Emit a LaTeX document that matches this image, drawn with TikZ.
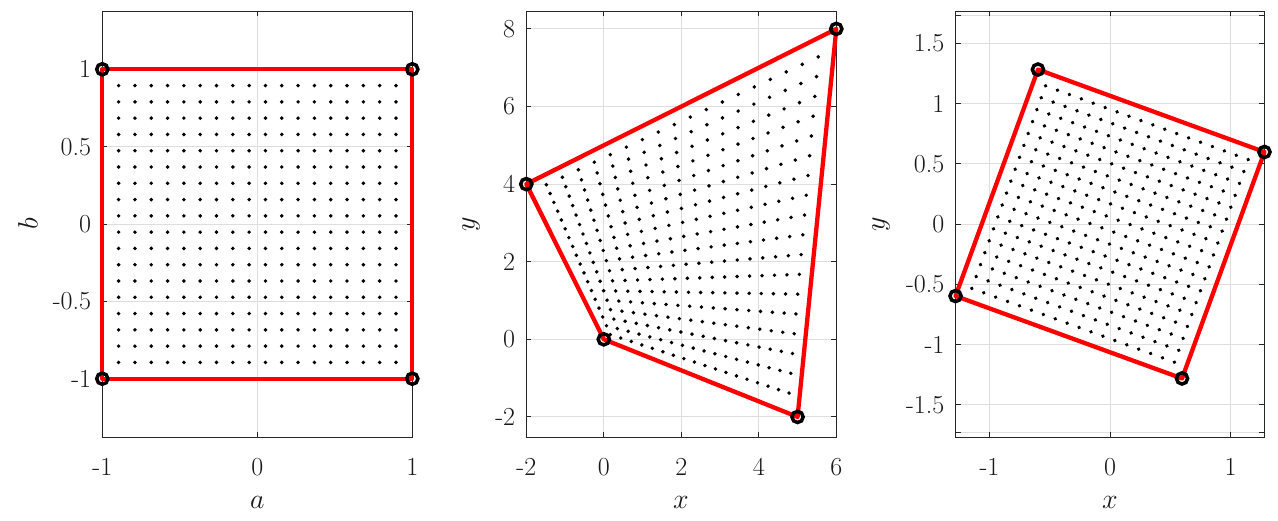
\RequirePackage{fix-cm}
\documentclass[tikz,border=0pt]{standalone}
\definecolor{axc}{RGB}{38,38,38}
\definecolor{labc}{RGB}{25,25,25}
\definecolor{gridc}{RGB}{222,222,222}
\tikzset{
  axbox/.style={draw=axc, line width=0.9pt},
  gridline/.style={draw=gridc, line width=0.9pt},
  tickmark/.style={draw=axc, line width=0.9pt},
  ticklab/.style={font=\fontsize{26}{26}\selectfont, text=labc, inner sep=0pt},
  axlab/.style={font=\fontsize{28}{28}\selectfont, text=labc, inner sep=0pt},
  edge/.style={draw=red, line width=4.3pt, line join=round},
  vtx/.style={circle, draw=black, line width=3.5pt, minimum size=11.2pt, inner sep=0pt},
  dotmark/.style={fill=black}
}
\begin{document}
\begin{tikzpicture}[x=1pt, y=-1pt]
\useasboundingbox[fill=white] (0,0) rectangle (1278,520);

% ---------------- Panel 1 ----------------
\begin{scope}[shift={(257.3pt,-224pt)}, x=155pt, y=154.7pt]
  \foreach \v in {-1,-0.5,0,0.5,1} \draw[gridline] (-1,\v) -- (1,\v);
  \foreach \u in {-1,0,1} \draw[gridline] (\u,-1.377) -- (\u,1.377);
  \draw[axbox] (-1,-1.377) rectangle (1,1.377);
  \foreach \u/\l [count=\k] in {-1/-1,0/0,1/1} {
    \draw[tickmark] (\u,-1.377) -- ++(0,5pt);
    \draw[tickmark] (\u,1.377) -- ++(0,-5pt);
    \node[ticklab, anchor=base] (pax\k) at ([yshift=-38pt]\u,-1.377) {\l};
  }
  \foreach \v/\l [count=\k] in {-1/-1,-0.5/-0.5,0/0,0.5/0.5,1/1} {
    \draw[tickmark] (-1,\v) -- ++(5pt,0);
    \draw[tickmark] (1,\v) -- ++(-5pt,0);
    \node[ticklab, anchor=east] (pay\k) at ([xshift=-11pt]-1,\v) {\l};
  }
  \foreach \i in {1,...,18} \foreach \j in {1,...,18}
    \fill[dotmark] (2*\i/19-1, 2*\j/19-1) circle (1.95pt);
  \coordinate (A1) at (-1,-1);
  \coordinate (A2) at (1,-1);
  \coordinate (A3) at (1,1);
  \coordinate (A4) at (-1,1);
  \draw[edge] (A1) -- (A2) -- (A3) -- (A4) -- cycle;
  \foreach \c in {A1,A2,A3,A4} \node[vtx] (v\c) at (\c) {};
\end{scope}

% ---------------- Panel 2 ----------------
\begin{scope}[shift={(603.8pt,-339.3pt)}, x=38.75pt, y=38.8pt]
  \foreach \v in {-2,0,2,4,6,8} \draw[gridline] (-2,\v) -- (6,\v);
  \foreach \u in {-2,0,2,4,6} \draw[gridline] (\u,-2.53) -- (\u,8.46);
  \draw[axbox] (-2,-2.53) rectangle (6,8.46);
  \foreach \u [count=\k] in {-2,0,2,4,6} {
    \draw[tickmark] (\u,-2.53) -- ++(0,5pt);
    \draw[tickmark] (\u,8.46) -- ++(0,-5pt);
    \node[ticklab, anchor=base] (pbx\k) at ([yshift=-38pt]\u,-2.53) {\u};
  }
  \foreach \v [count=\k] in {-2,0,2,4,6,8} {
    \draw[tickmark] (-2,\v) -- ++(5pt,0);
    \draw[tickmark] (6,\v) -- ++(-5pt,0);
    \node[ticklab, anchor=east] (pby\k) at ([xshift=-11pt]-2,\v) {\v};
  }
  \foreach \i in {1,...,18} \foreach \j in {1,...,18} {
    \pgfmathsetmacro\uu{\i/19}
    \pgfmathsetmacro\vv{\j/19}
    \pgfmathsetmacro\px{5*\uu*(1-\vv)+6*\uu*\vv-2*(1-\uu)*\vv}
    \pgfmathsetmacro\py{-2*\uu*(1-\vv)+8*\uu*\vv+4*(1-\uu)*\vv}
    \fill[dotmark] (\px,\py) circle (1.95pt);
  }
  \coordinate (B1) at (0,0);
  \coordinate (B2) at (5,-2);
  \coordinate (B3) at (6,8);
  \coordinate (B4) at (-2,4);
  \draw[edge] (B1) -- (B2) -- (B3) -- (B4) -- cycle;
  \foreach \c in {B1,B2,B3,B4} \node[vtx] (v\c) at (\c) {};
\end{scope}

% ---------------- Panel 3 ----------------
\begin{scope}[shift={(1110pt,-224pt)}, x=120.5pt, y=120.5pt]
  \foreach \v in {-1.728,-1.5,-1,-0.5,0,0.5,1,1.5,1.728} \draw[gridline] (-1.2817,\v) -- (1.2817,\v);
  \foreach \u in {-1,0,1} \draw[gridline] (\u,-1.768) -- (\u,1.768);
  \draw[axbox] (-1.2817,-1.768) rectangle (1.2817,1.768);
  \foreach \u/\l [count=\k] in {-1/-1,0/0,1/1} {
    \draw[tickmark] (\u,-1.768) -- ++(0,5pt);
    \draw[tickmark] (\u,1.768) -- ++(0,-5pt);
    \node[ticklab, anchor=base] (pcx\k) at ([yshift=-38pt]\u,-1.768) {\l};
  }
  \foreach \v in {-1.728,1.728} {
    \draw[tickmark] (-1.2817,\v) -- ++(5pt,0);
    \draw[tickmark] (1.2817,\v) -- ++(-5pt,0);
  }
  \foreach \v/\l [count=\k] in {-1.5/-1.5,-1/-1,-0.5/-0.5,0/0,0.5/0.5,1/1,1.5/1.5} {
    \draw[tickmark] (-1.2817,\v) -- ++(5pt,0);
    \draw[tickmark] (1.2817,\v) -- ++(-5pt,0);
    \node[ticklab, anchor=east] (pcy\k) at ([xshift=-11pt]-1.2817,\v) {\l};
  }
  \begin{scope}[rotate=-20]
    \foreach \i in {1,...,18} \foreach \j in {1,...,18}
      \fill[dotmark] (2*\i/19-1, 2*\j/19-1) circle (1.95pt);
    \coordinate (C1) at (-1,-1);
    \coordinate (C2) at (1,-1);
    \coordinate (C3) at (1,1);
    \coordinate (C4) at (-1,1);
  \end{scope}
  \draw[edge] (C1) -- (C2) -- (C3) -- (C4) -- cycle;
  \foreach \c in {C1,C2,C3,C4} \node[vtx] (v\c) at (\c) {};
\end{scope}

% ---------------- Axis labels ----------------
\node[axlab, anchor=base] (la) at (257.3,508) {$a$};
\node[axlab, rotate=90] (lb) at (28,224) {$b$};
\node[axlab, anchor=base] (lx2) at (681,508) {$x$};
\node[axlab, rotate=90] (ly2) at (471,224) {$y$};
\node[axlab, anchor=base] (lx3) at (1110,508) {$x$};
\node[axlab, rotate=90] (ly3) at (881,224) {$y$};
\end{tikzpicture}
\end{document}
